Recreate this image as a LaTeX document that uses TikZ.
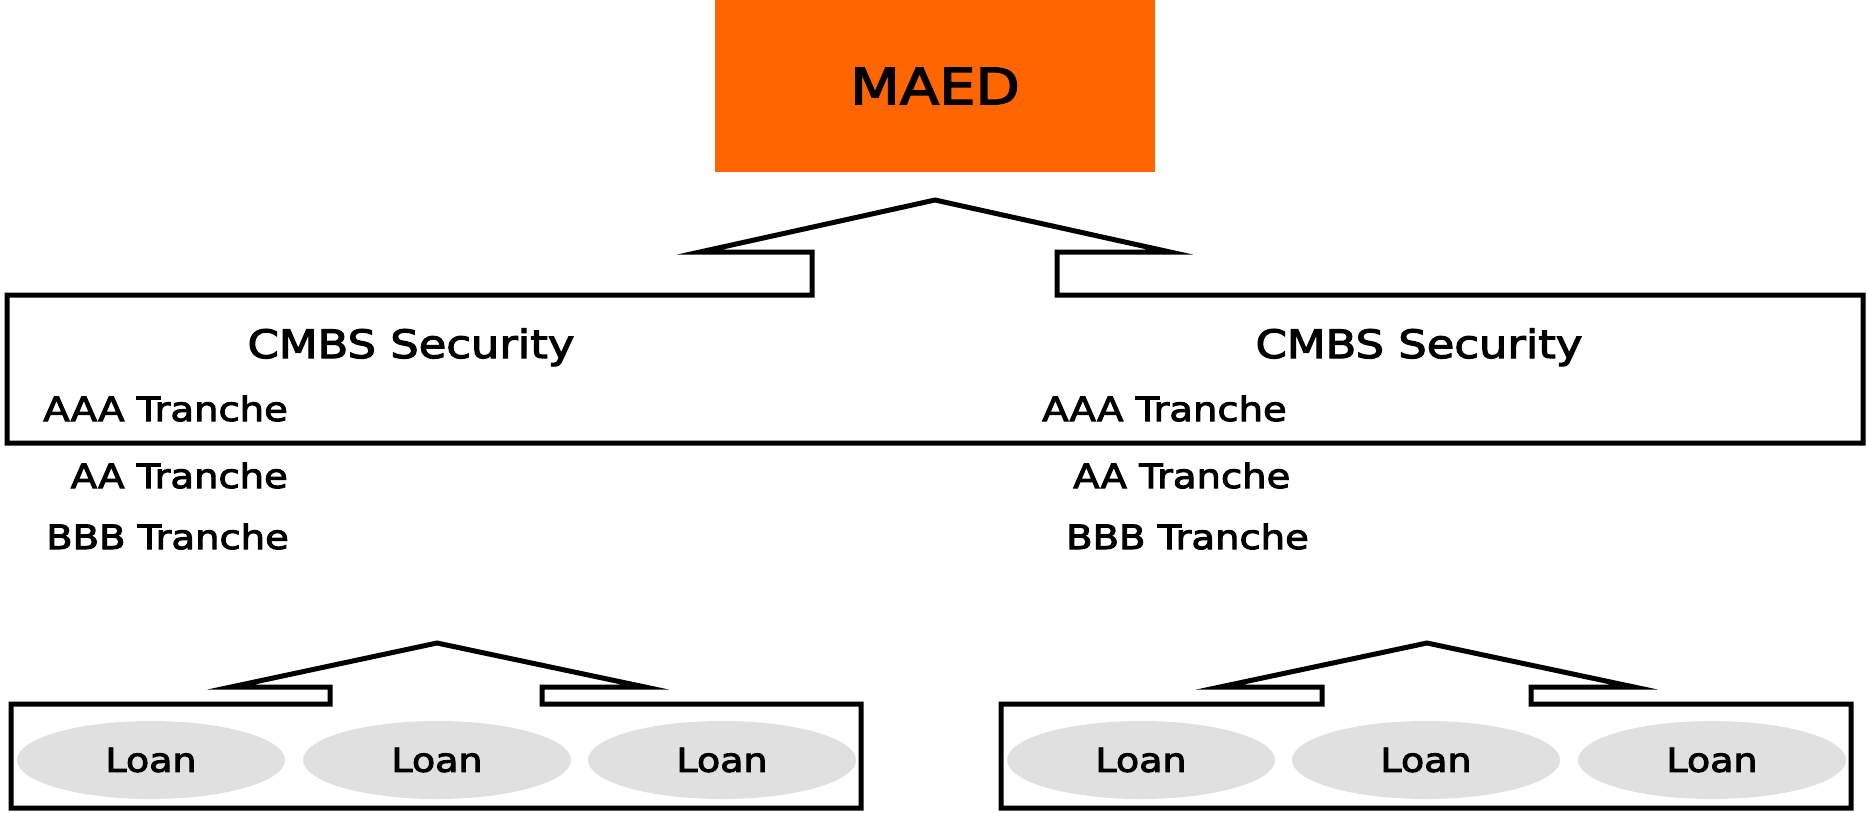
\documentclass[tikz,border=0pt]{standalone}
\usepackage{fontspec}
\setmainfont{DejaVu Sans}[FakeStretch=1.15, FakeBold=3]
\usetikzlibrary{shapes.geometric}
\definecolor{maedorange}{HTML}{FF6600}
\definecolor{loangray}{HTML}{E0E0E0}
\begin{document}
\begin{tikzpicture}[x=1pt,y=-1pt,
  outline/.style={line width=5pt, line join=miter, miter limit=15},
  headtxt/.style={inner sep=0pt, font=\fontsize{50}{60}\selectfont},
  sectxt/.style={inner sep=0pt, font=\fontsize{39}{47}\selectfont},
  tranchetxt/.style={inner sep=0pt, font=\fontsize{33.5}{40}\selectfont},
  loan/.style={ellipse, fill=loangray, minimum width=268pt, minimum height=78pt,
    inner sep=0pt, font=\fontsize{33}{40}\selectfont}
]
\useasboundingbox (0,0) rectangle (1867,812);

% top entity
\node[fill=maedorange, minimum width=440pt, minimum height=172pt, inner sep=0pt,
  headtxt] (maed) at (935,86) {MAED};

% security box merged with the upward block arrow
\draw[outline] (812,252) -- (812,295) -- (7,295) -- (7,443) -- (1863,443)
  -- (1863,295) -- (1057,295) -- (1057,252) -- (1170,252) -- (935,200)
  -- (700,252) -- cycle;

\node[sectxt, anchor=base] (secL) at (411,358) {CMBS Security};
\node[sectxt, anchor=base] (secR) at (1419,358) {CMBS Security};

% tranches, left security
\node[tranchetxt, anchor=base east] (aaaL) at (288,421) {AAA Tranche};
\node[tranchetxt, anchor=base east] (aaL)  at (288,488) {AA Tranche};
\node[tranchetxt, anchor=base east] (bbbL) at (289,549) {BBB Tranche};

% tranches, right security
\node[tranchetxt, anchor=base west] (aaaR) at (1042,421) {AAA Tranche};
\node[tranchetxt, anchor=base west] (aaR)  at (1073,488) {AA Tranche};
\node[tranchetxt, anchor=base west] (bbbR) at (1066,549) {BBB Tranche};

% left loan pool
\node[loan] (loanL1) at (151,760) {Loan};
\node[loan] (loanL2) at (437,760) {Loan};
\node[loan] (loanL3) at (722,760) {Loan};
\draw[outline] (330,687) -- (330,704) -- (11,704) -- (11,808) -- (861,808)
  -- (861,704) -- (542,704) -- (542,687) -- (645,687) -- (437,643)
  -- (231,687) -- cycle;

% right loan pool
\node[loan] (loanR1) at (1141,760) {Loan};
\node[loan] (loanR2) at (1426,760) {Loan};
\node[loan] (loanR3) at (1712,760) {Loan};
\draw[outline] (1322,687) -- (1322,704) -- (1001,704) -- (1001,808) -- (1851,808)
  -- (1851,704) -- (1531,704) -- (1531,687) -- (1634,687) -- (1427,643)
  -- (1220,687) -- cycle;
\end{tikzpicture}
\end{document}
